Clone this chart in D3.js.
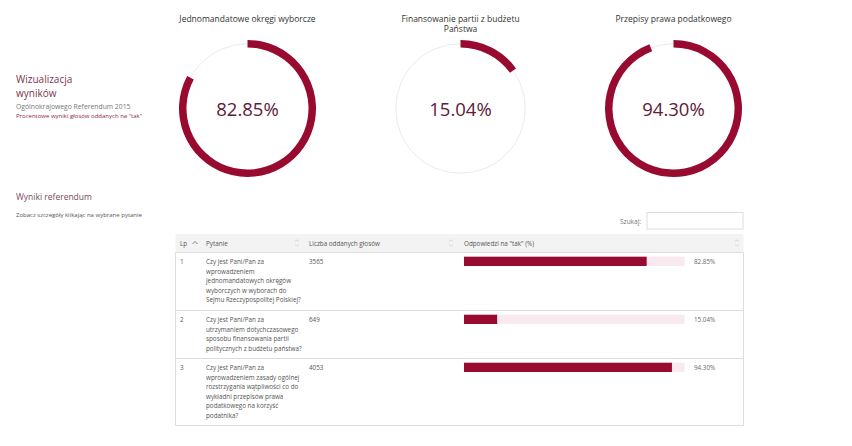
<!DOCTYPE html>
<html><head><meta charset="utf-8">
<script src="https://cdn.jsdelivr.net/npm/d3@7"></script>
<style>
html,body{margin:0;padding:0;background:#fff;}
svg{display:block;font-family:"Open Sans",sans-serif;}
</style></head>
<body><svg id="c" width="852" height="446"></svg>
<script>
const titles = [["Jednomandatowe okręgi wyborcze"], ["Finansowanie partii z budżetu", "Państwa"], ["Przepisy prawa podatkowego"]];
const values = [82.85, 15.04, 94.30];
const votes = [3565, 649, 4053];
const lp = [1, 2, 3];
const questions = [
  ["Czy jest Pani/Pan za", "wprowadzeniem", "jednomandatowych okręgów", "wyborczych w wyborach do", "Sejmu Rzeczypospolitej Polskiej?"],
  ["Czy jest Pani/Pan za", "utrzymaniem dotychczasowego", "sposobu finansowania partii", "politycznych z budżetu państwa?"],
  ["Czy jest Pani/Pan za", "wprowadzeniem zasady ogólnej", "rozstrzygania wątpliwości co do", "wykładni przepisów prawa", "podatkowego na korzyść", "podatnika?"]
];
const headers = ["Lp", "Pytanie", "Liczba oddanych głosów", "Odpowiedzi na \"tak\" (%)"];

const MAROON = "#990a30";
const svg = d3.select("#c");
svg.append("rect").attr("width", 852).attr("height", 446).attr("fill", "#fff");

// Left texts
const lt = svg.append("g");
lt.append("text").attr("x", 16).attr("y", 82.5).attr("font-size", 10).attr("fill", "#7a3550").text("Wizualizacja");
lt.append("text").attr("x", 16).attr("y", 96.5).attr("font-size", 10).attr("fill", "#7a3550").text("wyników");
lt.append("text").attr("x", 16).attr("y", 108.5).attr("font-size", 6.8).attr("fill", "#777").text("Ogólnokrajowego Referendum 2015");
lt.append("text").attr("x", 16).attr("y", 118).attr("font-size", 6).attr("fill", "#8a2a45").text("Procentowe wyniki głosów oddanych na \"tak\"");
lt.append("text").attr("x", 16).attr("y", 200).attr("font-size", 8.5).attr("fill", "#7a4a5a").text("Wyniki referendum");
lt.append("text").attr("x", 16).attr("y", 217).attr("font-size", 6).attr("fill", "#555").text("Zobacz szczegóły klikając na wybrane pytanie");

// Donuts
const cx = d3.scalePoint().domain(d3.range(values.length)).range([247.5, 673.5]);
const cy = 108.5, rOuter = 68.5, rInner = 61;
const angle = d3.scaleLinear().domain([0, 100]).range([0, 2 * Math.PI]);
const arc = d3.arc().innerRadius(rInner).outerRadius(rOuter).startAngle(0);
const donuts = svg.selectAll("g.donut").data(values).join("g")
  .attr("class", "donut").attr("transform", (d, i) => `translate(${cx(i)},${cy})`);
donuts.append("circle").attr("r", (rInner + rOuter) / 2).attr("fill", "none").attr("stroke", "#ebebeb").attr("stroke-width", 1);
donuts.append("path").attr("d", d => arc({endAngle: angle(d)})).attr("fill", MAROON);
donuts.append("text").attr("text-anchor", "middle").attr("y", 7.5).attr("font-size", 18.5)
  .attr("fill", "#5e2038").text(d => d.toFixed(2) + "%");
donuts.each(function(d, i) {
  const g = d3.select(this);
  titles[i].forEach((t, j) => {
    g.append("text").attr("text-anchor", "middle").attr("y", 22 - cy + j * 10)
      .attr("font-size", 8.5).attr("fill", "#333").text(t);
  });
});

// Search
svg.append("text").attr("x", 641).attr("y", 223.5).attr("text-anchor", "end").attr("font-size", 6.5).attr("fill", "#777").text("Szukaj:");
svg.append("rect").attr("x", 647).attr("y", 212.5).attr("width", 96).attr("height", 16.5).attr("fill", "#fff").attr("stroke", "#ddd").attr("stroke-width", 1);

// Table
const tx0 = 175.5, tx1 = 743.5;
const colX = [180, 206, 309, 464];
const rowTops = [252.5, 310.5, 358.5];
const rowBottom = 425.5;
svg.append("rect").attr("x", tx0).attr("y", 234).attr("width", tx1 - tx0).attr("height", 18.5).attr("fill", "#f3f3f3");
headers.forEach((h, i) => {
  svg.append("text").attr("x", colX[i]).attr("y", 245.5).attr("font-size", 6.3).attr("fill", "#555").text(h);
});
// sort icons
svg.append("path").attr("d", "M192.5,244 L195,241.5 L197.5,244").attr("fill", "none").attr("stroke", "#666").attr("stroke-width", 0.8);
[297, 451, 737].forEach(x => {
  svg.append("path").attr("d", `M${x - 2},241.5 L${x},239.8 L${x + 2},241.5 M${x - 2},244.5 L${x},246.2 L${x + 2},244.5`)
    .attr("fill", "none").attr("stroke", "#ccc").attr("stroke-width", 0.7);
});
// table borders
const rowEdges = rowTops.concat([rowBottom]);
svg.selectAll("line.rowline").data(rowEdges).join("line").attr("class", "rowline")
  .attr("x1", tx0).attr("x2", tx1).attr("y1", d => d).attr("y2", d => d).attr("stroke", "#ddd").attr("stroke-width", 1);
svg.append("line").attr("x1", tx0).attr("x2", tx0).attr("y1", 252.5).attr("y2", rowBottom).attr("stroke", "#ddd");
svg.append("line").attr("x1", tx1).attr("x2", tx1).attr("y1", 252.5).attr("y2", rowBottom).attr("stroke", "#ddd");

const barX = d3.scaleLinear().domain([0, 100]).range([464, 684.5]);
const rows = svg.selectAll("g.row").data(values).join("g").attr("class", "row")
  .attr("transform", (d, i) => `translate(0,${rowTops[i]})`);
rows.append("text").attr("x", colX[0]).attr("y", 11.5).attr("font-size", 6.3).attr("fill", "#555").text((d, i) => lp[i]);
rows.append("text").attr("x", colX[2]).attr("y", 11.5).attr("font-size", 6.3).attr("fill", "#555").text((d, i) => votes[i]);
rows.each(function(d, i) {
  const g = d3.select(this);
  questions[i].forEach((q, j) => {
    g.append("text").attr("x", colX[1]).attr("y", 11.5 + j * 9.5).attr("font-size", 6.3).attr("fill", "#555").text(q);
  });
});
rows.append("rect").attr("x", barX(0)).attr("y", 4.2).attr("width", barX(100) - barX(0)).attr("height", 9.3).attr("fill", "#f8eaef");
rows.append("rect").attr("x", barX(0)).attr("y", 4.2).attr("width", d => barX(d) - barX(0)).attr("height", 9.3).attr("fill", MAROON);
rows.append("text").attr("x", 694).attr("y", 11.5).attr("font-size", 6.3).attr("fill", "#666").text(d => d.toFixed(2) + "%");
</script></body></html>
